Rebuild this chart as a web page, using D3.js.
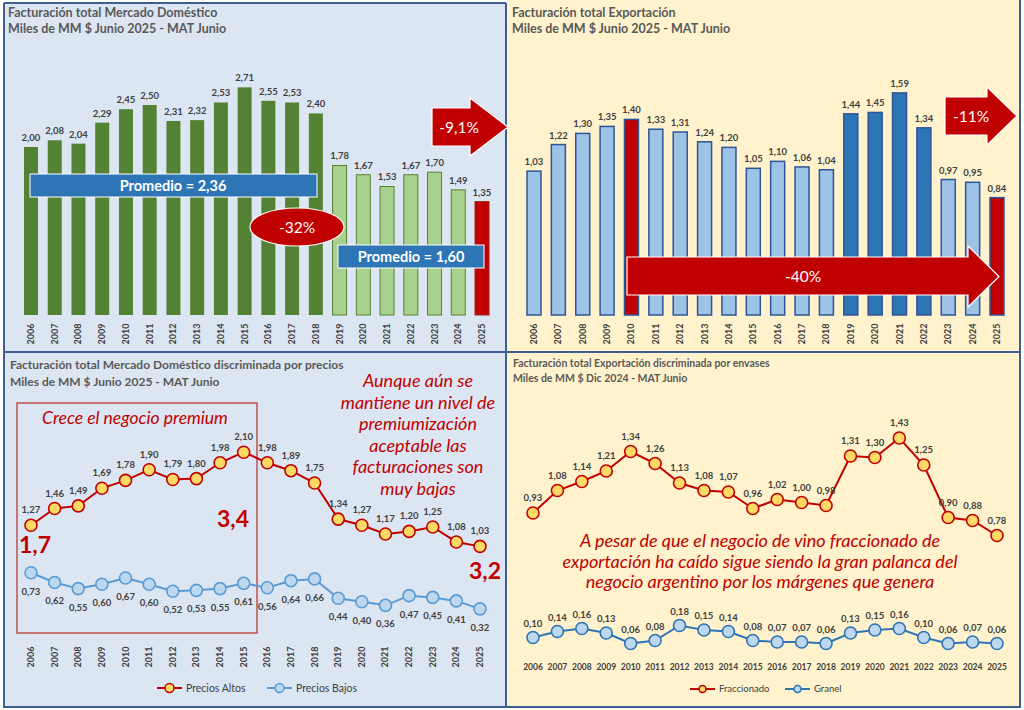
<!DOCTYPE html>
<html>
<head>
<meta charset="utf-8">
<script src="https://cdn.jsdelivr.net/npm/d3@7/dist/d3.min.js"></script>
<style>
  body { margin: 0; background: #fff; }
  svg { display: block; font-family: Lato, "Open Sans", sans-serif; }
  .title { font-weight: bold; fill: #595959; }
  .val { font-weight: bold; fill: #404040; font-size: 9.5px; }
  .yr { font-weight: bold; fill: #404040; font-size: 9px; }
  .note { font-style: italic; fill: #c00000; }
</style>
</head>
<body>
<svg width="1024" height="710"></svg>
<script>
// Data
var years = [2006, 2007, 2008, 2009, 2010, 2011, 2012, 2013, 2014, 2015,
             2016, 2017, 2018, 2019, 2020, 2021, 2022, 2023, 2024, 2025];
var domestico = [2.00, 2.08, 2.04, 2.29, 2.45, 2.50, 2.31, 2.32, 2.53, 2.71,
                 2.55, 2.53, 2.40, 1.78, 1.67, 1.53, 1.67, 1.70, 1.49, 1.35];
var exportacion = [1.03, 1.22, 1.30, 1.35, 1.40, 1.33, 1.31, 1.24, 1.20, 1.05,
                   1.10, 1.06, 1.04, 1.44, 1.45, 1.59, 1.34, 0.97, 0.95, 0.84];
var preciosAltos = [1.27, 1.46, 1.49, 1.69, 1.78, 1.90, 1.79, 1.80, 1.98, 2.10,
                    1.98, 1.89, 1.75, 1.34, 1.27, 1.17, 1.20, 1.25, 1.08, 1.03];
var preciosBajos = [0.73, 0.62, 0.55, 0.60, 0.67, 0.60, 0.52, 0.53, 0.55, 0.61,
                    0.56, 0.64, 0.66, 0.44, 0.40, 0.36, 0.47, 0.45, 0.41, 0.32];
var fraccionado = [0.93, 1.08, 1.14, 1.21, 1.34, 1.26, 1.13, 1.08, 1.07, 0.96,
                   1.02, 1.00, 0.98, 1.31, 1.30, 1.43, 1.25, 0.90, 0.88, 0.78];
var granel = [0.10, 0.14, 0.16, 0.13, 0.06, 0.08, 0.18, 0.15, 0.14, 0.08,
              0.07, 0.07, 0.06, 0.13, 0.15, 0.16, 0.10, 0.06, 0.07, 0.06];

var fmt = function(v) { return d3.format(".2f")(v).replace(".", ","); };

var RED = "#c00000";
var svg = d3.select("svg");

// panel backgrounds
var panels = [
  {x: 4, y: 3, w: 502, h: 349, fill: "#dce6f2"},
  {x: 507, y: 0, w: 513, h: 352, fill: "#fff2cc"},
  {x: 4, y: 352, w: 502, h: 355, fill: "#dce6f2"},
  {x: 507, y: 352, w: 513, h: 355, fill: "#fff2cc"}
];
svg.selectAll("rect.panel").data(panels).enter().append("rect")
  .attr("class", "panel")
  .attr("x", d => d.x).attr("y", d => d.y)
  .attr("width", d => d.w).attr("height", d => d.h)
  .attr("fill", d => d.fill);

// borders
svg.append("path")
  .attr("d", "M4,3 L506,3 M4,3 L4,707 L1020,707 L1020,0 M506,3 L506,707 M4,352 L1020,352")
  .attr("fill", "none").attr("stroke", "#3f5f8f").attr("stroke-width", 2);

function titles(x, y1, y2, t1, t2, size) {
  svg.append("text").attr("class", "title").attr("x", x).attr("y", y1)
    .style("font-size", size + "px").text(t1);
  svg.append("text").attr("class", "title").attr("x", x).attr("y", y2)
    .style("font-size", size + "px").text(t2);
}

function arrow(x0, headX, x1, yTop, yBot, hTop, hBot, label, tx) {
  var ym = (hTop + hBot) / 2;
  var p = d3.path();
  p.moveTo(x0, yTop); p.lineTo(headX, yTop); p.lineTo(headX, hTop);
  p.lineTo(x1, ym); p.lineTo(headX, hBot); p.lineTo(headX, yBot);
  p.lineTo(x0, yBot); p.closePath();
  svg.append("path").attr("d", p.toString()).attr("fill", RED)
    .attr("stroke", "#fff").attr("stroke-width", 1.2);
  svg.append("text").attr("x", tx).attr("y", (yTop + yBot) / 2)
    .attr("dy", "0.36em").attr("text-anchor", "middle")
    .attr("fill", "#fff").style("font-size", "15.5px").text(label);
}

function yearLabels(x, yc) {
  svg.append("g").selectAll("text").data(years).enter().append("text")
    .attr("class", "yr")
    .attr("transform", d => "translate(" + (x(d) + 3) + "," + yc + ") rotate(-90)")
    .attr("text-anchor", "middle")
    .text(d => d);
}

// ---------- Panel 1: domestic bars ----------
titles(8, 17, 33, "Facturación total Mercado Doméstico", "Miles de MM $ Junio 2025 - MAT Junio", 12.5);

var x1 = d3.scalePoint().domain(years).range([31, 482]);
var y1 = d3.scaleLinear().domain([0, 3]).range([315, 63]);
var BW = 14;

svg.append("g").selectAll("rect").data(years).enter().append("rect")
  .attr("x", d => x1(d) - BW / 2)
  .attr("y", (d, i) => y1(domestico[i]))
  .attr("width", BW)
  .attr("height", (d, i) => y1(0) - y1(domestico[i]))
  .attr("fill", d => d == 2025 ? RED : (d >= 2019 ? "#a9d18e" : "#548235"))
  .attr("stroke", d => d == 2025 ? "#a02020" : (d >= 2019 ? "#548235" : "none"))
  .attr("stroke-width", 1);

svg.append("g").selectAll("text").data(years).enter().append("text")
  .attr("class", "val")
  .attr("x", d => x1(d)).attr("y", (d, i) => y1(domestico[i]) - 6)
  .attr("text-anchor", "middle")
  .text((d, i) => fmt(domestico[i]));
yearLabels(x1, 334);

// promedio boxes
svg.append("rect").attr("x", 30).attr("y", 174).attr("width", 287).attr("height", 23)
  .attr("fill", "#2e75b6").attr("stroke", "#fff").attr("stroke-width", 1);
svg.append("text").attr("x", 173).attr("y", 186).attr("dy", "0.36em")
  .attr("text-anchor", "middle").attr("fill", "#fff").style("font-size", "14.5px")
  .style("font-weight", "bold").text("Promedio = 2,36");
svg.append("rect").attr("x", 338).attr("y", 245).attr("width", 146).attr("height", 23)
  .attr("fill", "#2e75b6").attr("stroke", "#fff").attr("stroke-width", 1);
svg.append("text").attr("x", 411).attr("y", 257).attr("dy", "0.36em")
  .attr("text-anchor", "middle").attr("fill", "#fff").style("font-size", "14.5px")
  .style("font-weight", "bold").text("Promedio = 1,60");

svg.append("ellipse").attr("cx", 297).attr("cy", 227).attr("rx", 47).attr("ry", 19)
  .attr("fill", RED).attr("stroke", "#fff").attr("stroke-width", 1.2);
svg.append("text").attr("x", 297).attr("y", 227).attr("dy", "0.36em")
  .attr("text-anchor", "middle").attr("fill", "#fff").style("font-size", "15.5px").text("-32%");

arrow(432, 470, 508, 108, 146, 98, 156, "-9,1%", 459);

// ---------- Panel 2: export bars ----------
titles(512, 17, 33, "Facturación total Exportación", "Miles de MM $ Junio 2025 - MAT Junio", 12.5);

var x2 = d3.scalePoint().domain(years).range([534, 997]);
var y2 = d3.scaleLinear().domain([0, 1.6]).range([315, 91.5]);

svg.append("g").selectAll("rect").data(years).enter().append("rect")
  .attr("x", d => x2(d) - BW / 2)
  .attr("y", (d, i) => y2(exportacion[i]))
  .attr("width", BW)
  .attr("height", (d, i) => y2(0) - y2(exportacion[i]))
  .attr("fill", d => (d == 2010 || d == 2025) ? RED : ((d >= 2019 && d <= 2022) ? "#2e75b6" : "#9dc3e6"))
  .attr("stroke", "#2f5597")
  .attr("stroke-width", 1.5);

svg.append("g").selectAll("text").data(years).enter().append("text")
  .attr("class", "val")
  .attr("x", d => x2(d)).attr("y", (d, i) => y2(exportacion[i]) - 6)
  .attr("text-anchor", "middle")
  .text((d, i) => fmt(exportacion[i]));
yearLabels(x2, 334);

arrow(627, 968, 999, 257, 295, 246, 307, "-40%", 803);
arrow(945, 987, 1017, 97, 135, 87, 145, "-11%", 971);

// ---------- Panel 3: domestic by price ----------
titles(10, 369, 386, "Facturación total Mercado Doméstico discriminada por precios",
       "Miles de MM $ Junio 2025 - MAT Junio", 12);

var x3 = d3.scalePoint().domain(years).range([31, 480]);
var y3 = d3.scaleLinear().domain([0, 2.5]).range([637, 417]);

svg.append("rect").attr("x", 17).attr("y", 403).attr("width", 240).attr("height", 230)
  .attr("fill", "none").attr("stroke", "#c0504d").attr("stroke-width", 1.5);

function lineSeries(x, y, vals, lineCol, fillCol, dyLabel, r) {
  var line = d3.line().x((d, i) => x(years[i])).y(d => y(d));
  svg.append("path").datum(vals).attr("d", line)
    .attr("fill", "none").attr("stroke", lineCol).attr("stroke-width", 2);
  svg.append("g").selectAll("circle").data(vals).enter().append("circle")
    .attr("cx", (d, i) => x(years[i])).attr("cy", d => y(d)).attr("r", r)
    .attr("fill", fillCol).attr("stroke", lineCol).attr("stroke-width", 1.6);
  svg.append("g").selectAll("text").data(vals).enter().append("text")
    .attr("class", "val")
    .attr("x", (d, i) => x(years[i])).attr("y", d => y(d) + dyLabel)
    .attr("text-anchor", "middle")
    .text(d => fmt(d));
}

lineSeries(x3, y3, preciosAltos, RED, "#ffd966", -12, 6);
lineSeries(x3, y3, preciosBajos, "#5b9bd5", "#bdd7ee", 22, 6);
yearLabels(x3, 657);

svg.append("text").attr("class", "note").attr("x", 135).attr("y", 424)
  .attr("text-anchor", "middle").style("font-size", "17.5px").text("Crece el negocio premium");

var noteBL = ["Aunque aún se", "mantiene un nivel de", "premiumización",
              "aceptable las", "facturaciones son", "muy bajas"];
svg.append("g").selectAll("text").data(noteBL).enter().append("text")
  .attr("class", "note").attr("x", 418).attr("y", (d, i) => 387 + i * 21.5)
  .attr("text-anchor", "middle").style("font-size", "18px").text(d => d);

[["1,7", 35, 553], ["3,4", 233, 527], ["3,2", 485, 579]].forEach(function(t) {
  svg.append("text").attr("x", t[1]).attr("y", t[2]).attr("text-anchor", "middle")
    .attr("fill", RED).style("font-size", "23px").style("font-weight", "bold").text(t[0]);
});

function legend(items, y, size) {
  items.forEach(function(it) {
    svg.append("line").attr("x1", it.x).attr("x2", it.x + 25).attr("y1", y).attr("y2", y)
      .attr("stroke", it.line).attr("stroke-width", 2);
    svg.append("circle").attr("cx", it.x + 12.5).attr("cy", y).attr("r", size)
      .attr("fill", it.fill).attr("stroke", it.line).attr("stroke-width", 1.5);
    svg.append("text").attr("x", it.x + 29).attr("y", y).attr("dy", "0.35em")
      .attr("fill", "#404040").style("font-size", it.fs + "px").text(it.name);
  });
}
legend([
  {x: 157, name: "Precios Altos", line: RED, fill: "#ffd966", fs: 10.5},
  {x: 267, name: "Precios Bajos", line: "#5b9bd5", fill: "#bdd7ee", fs: 10.5}
], 688, 4.5);

// ---------- Panel 4: export by container ----------
titles(513, 367, 382, "Facturación total Exportación discriminada por envases",
       "Miles de MM $ Dic 2024 - MAT Junio", 10.5);

var x4 = d3.scalePoint().domain(years).range([533, 997]);
var y4 = d3.scaleLinear().domain([0, 1.5]).range([652.5, 427.5]);

lineSeries(x4, y4, fraccionado, RED, "#ffd966", -12, 6);
lineSeries(x4, y4, granel, "#2e75b6", "#bdd7ee", -11, 6);

svg.append("g").selectAll("text").data(years).enter().append("text")
  .attr("class", "yr").attr("x", d => x4(d)).attr("y", 670)
  .attr("text-anchor", "middle").style("font-size", "8.5px").text(d => d);

var noteBR = ["A pesar de que el negocio de vino fraccionado de",
              "exportación ha caído sigue siendo la gran palanca del",
              "negocio argentino por los márgenes que genera"];
svg.append("g").selectAll("text").data(noteBR).enter().append("text")
  .attr("class", "note").attr("x", 760).attr("y", (d, i) => 547 + i * 20.7)
  .attr("text-anchor", "middle").style("font-size", "18px").text(d => d);

legend([
  {x: 690, name: "Fraccionado", line: RED, fill: "#ffd966", fs: 9.5},
  {x: 785, name: "Granel", line: "#2e75b6", fill: "#bdd7ee", fs: 9.5}
], 689, 3.5);
</script>
</body>
</html>
